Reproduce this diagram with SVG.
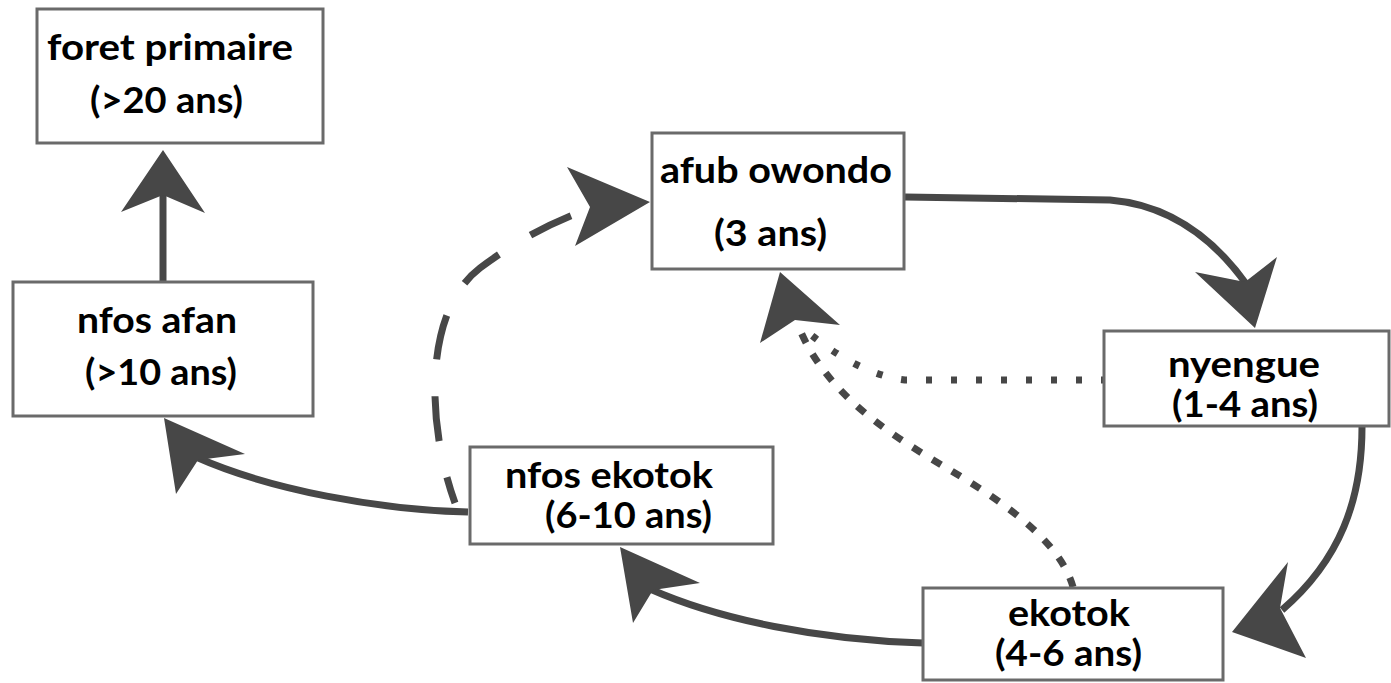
<svg xmlns="http://www.w3.org/2000/svg" width="1391" height="683" viewBox="0 0 1391 683">
<style>
.box{fill:#fff;stroke:#6a6a6a;stroke-width:3}
.t{font-family:Lato,"Open Sans","Liberation Sans",sans-serif;font-weight:bold;font-size:36px;fill:#000}
.ln{fill:none;stroke:#474747;stroke-width:7}
.ah{fill:#474747;stroke:none}
</style>
<rect width="1391" height="683" fill="#fff"/>
<g id="connectors">
<path class="ln" d="M163 282 L163 190" stroke-width="6"/>
<polygon class="ah" points="163,150 121,212 163,195 205,213"/>
<path class="ln" d="M455 503 C425 420,425 310,480 268 C520 238,560 218,595 207" stroke-width="8" stroke-dasharray="45 37" stroke-dashoffset="18"/>
<polygon class="ah" points="650,202 567,167 590,207 575,246"/>
<path class="ln" d="M905 197 L1110 200 C1170 205,1215 240,1247 285"/>
<polygon class="ah" points="1255,328 1195,272 1245,282 1277,257"/>
<path class="ln" d="M1362 427 C1362 500,1340 560,1282 610"/>
<polygon class="ah" points="1232,632 1288,562 1280,608 1306,658"/>
<path class="ln" d="M923 643 C820 640,720 620,650 589"/>
<polygon class="ah" points="620,547 700,583 653,590 633,623"/>
<path class="ln" d="M468 512 C380 510,270 490,196 457"/>
<polygon class="ah" points="164,418 245,454 198,460 176,494"/>
<path class="ln" d="M1107 380 L905 380 C870 376,835 355,805 330" stroke-width="6" stroke-dasharray="6 19"/>
<path class="ln" d="M1073 587 C1060 540,1000 500,950 470 S830 400,800 330" stroke-width="6" stroke-dasharray="10 13"/>
<polygon class="ah" points="780,272 760,343 795,320 840,325"/>
</g>
<g id="node-foret-primaire">
<rect class="box" x="37" y="9" width="286" height="134"/>
<text class="t" x="47" y="60" textLength="246" lengthAdjust="spacingAndGlyphs">foret primaire</text>
<text class="t" x="90" y="113" textLength="153" lengthAdjust="spacingAndGlyphs">(&gt;20 ans)</text>
</g>
<g id="node-nfos-afan">
<rect class="box" x="13" y="282" width="300" height="134"/>
<text class="t" x="77" y="333" textLength="160" lengthAdjust="spacingAndGlyphs">nfos afan</text>
<text class="t" x="85" y="385" textLength="152" lengthAdjust="spacingAndGlyphs">(&gt;10 ans)</text>
</g>
<g id="node-afub-owondo">
<rect class="box" x="652" y="133" width="252" height="136"/>
<text class="t" x="660" y="183" textLength="232" lengthAdjust="spacingAndGlyphs">afub owondo</text>
<text class="t" x="714" y="246" textLength="113" lengthAdjust="spacingAndGlyphs">(3 ans)</text>
</g>
<g id="node-nyengue">
<rect class="box" x="1104" y="331" width="285" height="95"/>
<text class="t" x="1168" y="377" textLength="152" lengthAdjust="spacingAndGlyphs">nyengue</text>
<text class="t" x="1172" y="417" textLength="146" lengthAdjust="spacingAndGlyphs">(1-4 ans)</text>
</g>
<g id="node-ekotok">
<rect class="box" x="923" y="588" width="300" height="92"/>
<text class="t" x="1008" y="626" textLength="122" lengthAdjust="spacingAndGlyphs" font-size="32">ekotok</text>
<text class="t" x="995" y="666" textLength="147" lengthAdjust="spacingAndGlyphs" font-size="32">(4-6 ans)</text>
</g>
<g id="node-nfos-ekotok">
<rect class="box" x="470" y="447" width="303" height="97"/>
<text class="t" x="505" y="488" textLength="208" lengthAdjust="spacingAndGlyphs" font-size="29">nfos ekotok</text>
<text class="t" x="545" y="528" textLength="167" lengthAdjust="spacingAndGlyphs" font-size="29">(6-10 ans)</text>
</g>
</svg>
